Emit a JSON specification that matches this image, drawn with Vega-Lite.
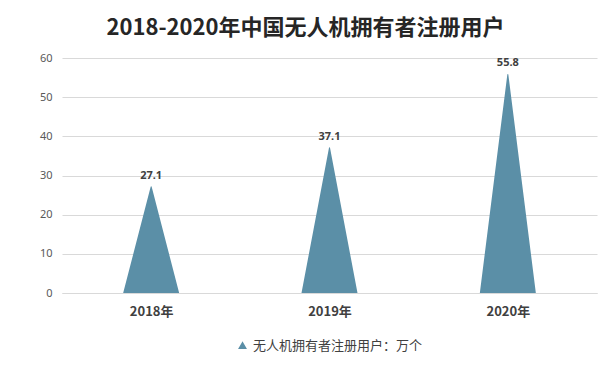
{
  "$schema": "https://vega.github.io/schema/vega-lite/v6.json",
  "width": 535,
  "height": 235,
  "autosize": "none",
  "padding": {"left": 62, "top": 58, "right": 15, "bottom": 79},
  "background": "white",
  "config": {
    "view": {"stroke": null},
    "legend": {"layout": {"bottom": {"anchor": "middle"}}},
    "axisY": {
      "title": null,
      "domain": false,
      "ticks": false,
      "gridColor": "#d9d9d9",
      "labelColor": "#595959",
      "labelFont": "Noto Sans",
      "labelFontSize": 11,
      "labelPadding": 10
    }
  },
  "title": {
    "text": "2018-2020年中国无人机拥有者注册用户",
    "font": "Noto Sans CJK SC",
    "fontSize": 22,
    "fontWeight": "bold",
    "color": "#262626",
    "anchor": "middle",
    "dx": -24,
    "offset": 12
  },
  "data": {
    "values": [
      {"year": "2018年", "value": 27.1, "series": "无人机拥有者注册用户：万个"},
      {"year": "2019年", "value": 37.1, "series": "无人机拥有者注册用户：万个"},
      {"year": "2020年", "value": 55.8, "series": "无人机拥有者注册用户：万个"}
    ]
  },
  "encoding": {
    "x": {
      "field": "year",
      "type": "nominal",
      "scale": {"type": "point", "padding": 0.5},
      "axis": {
        "title": null,
        "labelAngle": 0,
        "labelFont": "Noto Sans CJK SC",
        "labelFontSize": 13,
        "labelFontWeight": "bold",
        "labelColor": "#404040",
        "labelPadding": 12,
        "ticks": false,
        "domainColor": "#d9d9d9",
        "grid": false
      }
    }
  },
  "layer": [
    {
      "transform": [
        {"stack": "value", "groupby": ["year"], "as": ["v0", "v1"]},
        {"fold": ["v0", "v1"], "as": ["end", "h"]}
      ],
      "mark": {"type": "trail", "clip": true},
      "encoding": {
        "y": {
          "field": "h",
          "type": "quantitative",
          "scale": {"domain": [0, 60]},
          "axis": {"values": [0, 10, 20, 30, 40, 50, 60]}
        },
        "size": {
          "field": "end",
          "type": "ordinal",
          "scale": {"domain": ["v0", "v1"], "range": [56, 0]},
          "legend": null
        },
        "detail": {"field": "year"},
        "order": {"field": "end"},
        "color": {
          "field": "series",
          "type": "nominal",
          "scale": {"range": ["#5b8fa7"]},
          "legend": {
            "orient": "bottom",
            "title": null,
            "symbolType": "triangle-up",
            "symbolSize": 40,
            "symbolFillColor": "#5b8fa7",
            "symbolStrokeColor": "#5b8fa7",
            "labelFont": "Noto Sans CJK SC",
            "labelFontSize": 13,
            "labelColor": "#404040",
            "labelLimit": 400,
            "offset": 21
          }
        }
      }
    },
    {
      "mark": {
        "type": "text",
        "baseline": "bottom",
        "dy": -6,
        "font": "Noto Sans",
        "fontSize": 11,
        "fontWeight": "bold",
        "color": "#404040"
      },
      "encoding": {
        "y": {
          "field": "value",
          "type": "quantitative",
          "axis": {"values": [0, 10, 20, 30, 40, 50, 60]}
        },
        "text": {"field": "value", "type": "quantitative", "format": ".1f"}
      }
    }
  ]
}
